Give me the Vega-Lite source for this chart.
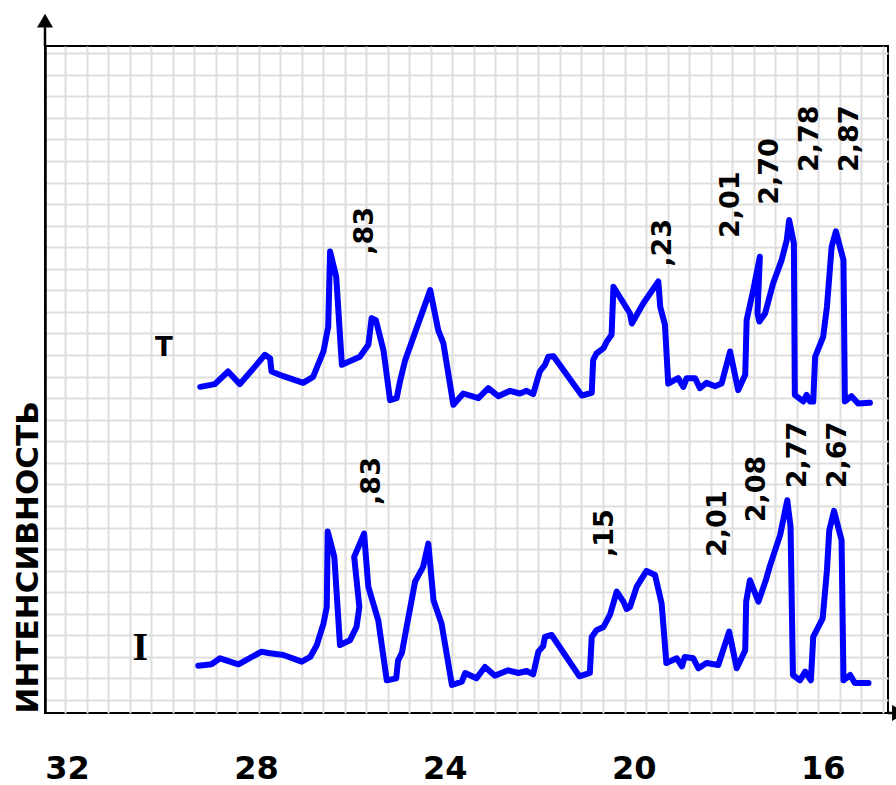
{
  "$schema": "https://vega.github.io/schema/vega-lite/v6.json",
  "width": 843,
  "height": 667,
  "autosize": {"type": "none"},
  "padding": {"left": 45, "top": 46, "right": 8, "bottom": 72},
  "background": "white",
  "config": {"view": {"stroke": "black", "strokeWidth": 2}, "font": "DejaVu Sans"},
  "datasets": {
    "curve": [
      {"s":"T","x":29.18,"y":48.9},{"s":"T","x":28.87,"y":49.3},{"s":"T","x":28.59,"y":51.2},{"s":"T","x":28.34,"y":49.3},{"s":"T","x":27.81,"y":53.7},{"s":"T","x":27.70,"y":53.2},{"s":"T","x":27.67,"y":51.2},{"s":"T","x":27.42,"y":50.5},{"s":"T","x":27.00,"y":49.5},{"s":"T","x":26.79,"y":50.4},{"s":"T","x":26.57,"y":54.2},{"s":"T","x":26.47,"y":57.9},{"s":"T","x":26.43,"y":69.2},{"s":"T","x":26.30,"y":65.4},{"s":"T","x":26.18,"y":52.2},{"s":"T","x":25.80,"y":53.4},{"s":"T","x":25.62,"y":55.2},{"s":"T","x":25.55,"y":59.2},{"s":"T","x":25.46,"y":58.9},{"s":"T","x":25.30,"y":54.4},{"s":"T","x":25.16,"y":46.9},{"s":"T","x":25.02,"y":47.2},{"s":"T","x":24.95,"y":49.7},{"s":"T","x":24.84,"y":52.9},{"s":"T","x":24.31,"y":63.4},{"s":"T","x":24.14,"y":57.4},{"s":"T","x":24.03,"y":55.4},{"s":"T","x":23.82,"y":46.2},{"s":"T","x":23.61,"y":47.9},{"s":"T","x":23.29,"y":47.2},{"s":"T","x":23.08,"y":48.7},{"s":"T","x":22.87,"y":47.5},{"s":"T","x":22.62,"y":48.3},{"s":"T","x":22.41,"y":47.9},{"s":"T","x":22.27,"y":48.3},{"s":"T","x":22.13,"y":47.8},{"s":"T","x":21.99,"y":51.2},{"s":"T","x":21.88,"y":52.2},{"s":"T","x":21.81,"y":53.4},{"s":"T","x":21.70,"y":53.5},{"s":"T","x":21.10,"y":47.6},{"s":"T","x":20.89,"y":48.0},{"s":"T","x":20.86,"y":52.9},{"s":"T","x":20.79,"y":53.9},{"s":"T","x":20.64,"y":54.7},{"s":"T","x":20.57,"y":55.7},{"s":"T","x":20.47,"y":56.7},{"s":"T","x":20.43,"y":63.9},{"s":"T","x":20.08,"y":59.9},{"s":"T","x":20.04,"y":58.4},{"s":"T","x":19.80,"y":61.4},{"s":"T","x":19.48,"y":64.7},{"s":"T","x":19.44,"y":60.9},{"s":"T","x":19.34,"y":58.2},{"s":"T","x":19.27,"y":49.4},{"s":"T","x":19.06,"y":50.2},{"s":"T","x":18.95,"y":48.9},{"s":"T","x":18.88,"y":50.2},{"s":"T","x":18.70,"y":50.2},{"s":"T","x":18.60,"y":48.7},{"s":"T","x":18.46,"y":49.5},{"s":"T","x":18.28,"y":49.0},{"s":"T","x":18.14,"y":49.4},{"s":"T","x":17.96,"y":54.2},{"s":"T","x":17.79,"y":48.4},{"s":"T","x":17.64,"y":50.7},{"s":"T","x":17.61,"y":58.9},{"s":"T","x":17.47,"y":63.4},{"s":"T","x":17.33,"y":68.4},{"s":"T","x":17.38,"y":59.9},{"s":"T","x":17.34,"y":58.7},{"s":"T","x":17.22,"y":59.9},{"s":"T","x":17.05,"y":64.4},{"s":"T","x":16.87,"y":67.9},{"s":"T","x":16.76,"y":70.9},{"s":"T","x":16.71,"y":73.9},{"s":"T","x":16.61,"y":70.4},{"s":"T","x":16.59,"y":47.7},{"s":"T","x":16.41,"y":46.7},{"s":"T","x":16.34,"y":47.7},{"s":"T","x":16.27,"y":46.7},{"s":"T","x":16.20,"y":46.7},{"s":"T","x":16.16,"y":53.4},{"s":"T","x":15.99,"y":56.4},{"s":"T","x":15.91,"y":60.9},{"s":"T","x":15.81,"y":69.9},{"s":"T","x":15.72,"y":72.2},{"s":"T","x":15.56,"y":67.9},{"s":"T","x":15.53,"y":46.7},{"s":"T","x":15.39,"y":47.5},{"s":"T","x":15.25,"y":46.4},{"s":"T","x":15.00,"y":46.5},
      {"s":"I","x":29.22,"y":7.1},{"s":"I","x":28.94,"y":7.3},{"s":"I","x":28.76,"y":8.2},{"s":"I","x":28.37,"y":7.3},{"s":"I","x":27.88,"y":9.2},{"s":"I","x":27.74,"y":9.0},{"s":"I","x":27.42,"y":8.7},{"s":"I","x":27.03,"y":7.7},{"s":"I","x":26.85,"y":8.4},{"s":"I","x":26.71,"y":10.2},{"s":"I","x":26.57,"y":13.4},{"s":"I","x":26.50,"y":15.9},{"s":"I","x":26.48,"y":27.2},{"s":"I","x":26.34,"y":23.4},{"s":"I","x":26.22,"y":10.2},{"s":"I","x":26.01,"y":10.9},{"s":"I","x":25.87,"y":12.9},{"s":"I","x":25.81,"y":15.9},{"s":"I","x":25.92,"y":23.4},{"s":"I","x":25.71,"y":26.9},{"s":"I","x":25.62,"y":18.9},{"s":"I","x":25.41,"y":13.9},{"s":"I","x":25.23,"y":4.9},{"s":"I","x":25.03,"y":5.2},{"s":"I","x":24.99,"y":7.9},{"s":"I","x":24.91,"y":9.0},{"s":"I","x":24.81,"y":12.9},{"s":"I","x":24.63,"y":19.7},{"s":"I","x":24.46,"y":21.9},{"s":"I","x":24.35,"y":25.4},{"s":"I","x":24.24,"y":16.9},{"s":"I","x":24.07,"y":13.4},{"s":"I","x":23.85,"y":4.2},{"s":"I","x":23.64,"y":4.7},{"s":"I","x":23.57,"y":6.0},{"s":"I","x":23.33,"y":5.2},{"s":"I","x":23.15,"y":6.9},{"s":"I","x":22.94,"y":5.6},{"s":"I","x":22.66,"y":6.4},{"s":"I","x":22.44,"y":6.0},{"s":"I","x":22.27,"y":6.3},{"s":"I","x":22.13,"y":5.8},{"s":"I","x":22.02,"y":9.2},{"s":"I","x":21.92,"y":10.0},{"s":"I","x":21.88,"y":11.4},{"s":"I","x":21.74,"y":11.7},{"s":"I","x":21.15,"y":5.5},{"s":"I","x":20.93,"y":6.0},{"s":"I","x":20.89,"y":11.4},{"s":"I","x":20.79,"y":12.4},{"s":"I","x":20.64,"y":12.9},{"s":"I","x":20.50,"y":14.8},{"s":"I","x":20.36,"y":18.2},{"s":"I","x":20.22,"y":16.7},{"s":"I","x":20.15,"y":15.6},{"s":"I","x":20.08,"y":15.9},{"s":"I","x":19.94,"y":18.9},{"s":"I","x":19.73,"y":21.3},{"s":"I","x":19.55,"y":20.7},{"s":"I","x":19.41,"y":16.4},{"s":"I","x":19.31,"y":7.5},{"s":"I","x":19.09,"y":8.2},{"s":"I","x":18.98,"y":7.0},{"s":"I","x":18.92,"y":8.4},{"s":"I","x":18.74,"y":8.2},{"s":"I","x":18.63,"y":6.7},{"s":"I","x":18.46,"y":7.5},{"s":"I","x":18.21,"y":7.2},{"s":"I","x":17.98,"y":12.2},{"s":"I","x":17.82,"y":6.7},{"s":"I","x":17.64,"y":9.4},{"s":"I","x":17.62,"y":16.7},{"s":"I","x":17.54,"y":19.9},{"s":"I","x":17.36,"y":16.7},{"s":"I","x":17.20,"y":20.0},{"s":"I","x":17.11,"y":22.2},{"s":"I","x":16.90,"y":26.7},{"s":"I","x":16.75,"y":31.9},{"s":"I","x":16.68,"y":27.9},{"s":"I","x":16.63,"y":5.7},{"s":"I","x":16.48,"y":4.9},{"s":"I","x":16.37,"y":6.2},{"s":"I","x":16.25,"y":4.9},{"s":"I","x":16.20,"y":11.4},{"s":"I","x":16.00,"y":14.2},{"s":"I","x":15.91,"y":21.4},{"s":"I","x":15.86,"y":27.4},{"s":"I","x":15.76,"y":30.3},{"s":"I","x":15.60,"y":25.9},{"s":"I","x":15.56,"y":4.9},{"s":"I","x":15.42,"y":5.7},{"s":"I","x":15.32,"y":4.5},{"s":"I","x":15.03,"y":4.5}
    ],
    "peaks": [
      {"t":",83","x":25.69,"y":68.7},{"t":",23","x":19.38,"y":66.9},{"t":"2,01","x":17.94,"y":71.2},{"t":"2,70","x":17.12,"y":76.2},{"t":"2,78","x":16.27,"y":81.1},{"t":"2,87","x":15.42,"y":81.1},
      {"t":",83","x":25.54,"y":31.2},{"t":",15","x":20.61,"y":23.4},{"t":"2,01","x":18.22,"y":23.4},{"t":"2,08","x":17.39,"y":28.6},{"t":"2,77","x":16.52,"y":33.7},{"t":"2,67","x":15.68,"y":33.7}
    ],
    "seriesI": [{"t":"I","x":30.45,"y":9.7}],
    "seriesT": [{"t":"T","x":29.95,"y":54.7}],
    "axisext": [
      {"a":"y","x":32.466,"y":100,"x2":32.466,"y2":102.8},
      {"a":"x","x":14.617,"y":0,"x2":14.511,"y2":0}
    ],
    "arrows": [
      {"a":"up","x":32.466,"y":103.8},
      {"a":"right","x":14.384,"y":0}
    ]
  },
  "layer": [
    {
      "data": {"name": "curve"},
      "mark": {"type": "line", "color": "#0000FF", "strokeWidth": 6, "strokeJoin": "round", "strokeCap": "round"},
      "encoding": {
        "x": {"field": "x", "type": "quantitative",
          "scale": {"domain": [14.617, 32.466], "reverse": true, "nice": false, "zero": false},
          "axis": {"orient": "top", "title": null, "labels": false, "ticks": false, "domain": false, "grid": true, "gridColor": "#dedede", "gridWidth": 2, "gridOpacity": 1,
            "values": [32.042,31.587,31.131,30.675,30.220,29.764,29.309,28.853,28.397,27.942,27.486,27.030,26.575,26.119,25.663,25.208,24.752,24.296,23.841,23.385,22.930,22.474,22.018,21.563,21.107,20.651,20.196,19.740,19.284,18.829,18.373,17.917,17.462,17.006,16.550,16.095,15.639,15.183,14.728]}},
        "y": {"field": "y", "type": "quantitative",
          "scale": {"domain": [0, 100], "nice": false, "zero": false},
          "axis": {"title": "ИНТЕНСИВНОСТЬ", "titleFont": "DejaVu Sans", "titleFontSize": 31, "titleFontWeight": "bold", "titleColor": "black", "titleAngle": 270, "titleAlign": "left", "titleBaseline": "middle", "titleX": -17, "titleY": 667,
            "labels": false, "ticks": false, "domain": true, "domainColor": "black", "domainWidth": 2.5, "grid": true, "gridColor": "#dedede", "gridWidth": 2, "gridOpacity": 1,
            "values": [1.95,5.18,8.41,11.65,14.88,18.11,21.34,24.58,27.81,31.04,34.27,37.51,40.74,43.97,47.20,50.44,53.67,56.90,60.13,63.37,66.60,69.83,73.06,76.30,79.53,82.76,85.99,89.22,92.46,95.69,98.92]}},
        "detail": {"field": "s"},
        "order": {"value": null}
      }
    },
    {
      "data": {"name": "peaks"},
      "mark": {"type": "text", "angle": 270, "align": "left", "baseline": "middle", "font": "DejaVu Sans", "fontSize": 27, "fontWeight": "bold", "color": "black"},
      "encoding": {
        "x": {"field": "x", "type": "quantitative", "scale": {"domain": [14.617, 32.466], "reverse": true, "nice": false, "zero": false},
          "axis": {"orient": "bottom", "title": null, "values": [32, 28, 24, 20, 16], "grid": false, "ticks": false, "domain": false, "labelFont": "DejaVu Sans", "labelFontSize": 32, "labelFontWeight": "bold", "labelColor": "black", "labelPadding": 40, "labelBaseline": "top", "labelFlush": false, "labelOverlap": false}},
        "y": {"field": "y", "type": "quantitative", "scale": {"domain": [0, 100], "nice": false, "zero": false}, "axis": null},
        "text": {"field": "t"}
      }
    },
    {
      "data": {"name": "seriesI"},
      "mark": {"type": "text", "align": "center", "baseline": "middle", "font": "Liberation Serif", "fontSize": 40, "fontWeight": "bold", "color": "black"},
      "encoding": {
        "x": {"field": "x", "type": "quantitative", "axis": null},
        "y": {"field": "y", "type": "quantitative", "axis": null},
        "text": {"field": "t"}
      }
    },
    {
      "data": {"name": "seriesT"},
      "mark": {"type": "text", "align": "center", "baseline": "middle", "font": "DejaVu Sans", "fontSize": 26, "fontWeight": "bold", "color": "black"},
      "encoding": {
        "x": {"field": "x", "type": "quantitative", "axis": null},
        "y": {"field": "y", "type": "quantitative", "axis": null},
        "text": {"field": "t"}
      }
    },
    {
      "data": {"name": "axisext"},
      "mark": {"type": "rule", "color": "black", "strokeWidth": 2.5, "clip": false},
      "encoding": {
        "x": {"field": "x", "type": "quantitative", "axis": null},
        "y": {"field": "y", "type": "quantitative", "axis": null},
        "x2": {"field": "x2"},
        "y2": {"field": "y2"}
      }
    },
    {
      "data": {"name": "arrows"},
      "mark": {"type": "point", "filled": true, "color": "black", "opacity": 1, "size": 256, "clip": false},
      "encoding": {
        "x": {"field": "x", "type": "quantitative", "axis": null},
        "y": {"field": "y", "type": "quantitative", "axis": null},
        "shape": {"field": "a", "type": "nominal", "scale": {"domain": ["up", "right"], "range": ["triangle-up", "triangle-right"]}, "legend": null}
      }
    }
  ],
  "resolve": {"axis": {"x": "independent", "y": "independent"}}
}
